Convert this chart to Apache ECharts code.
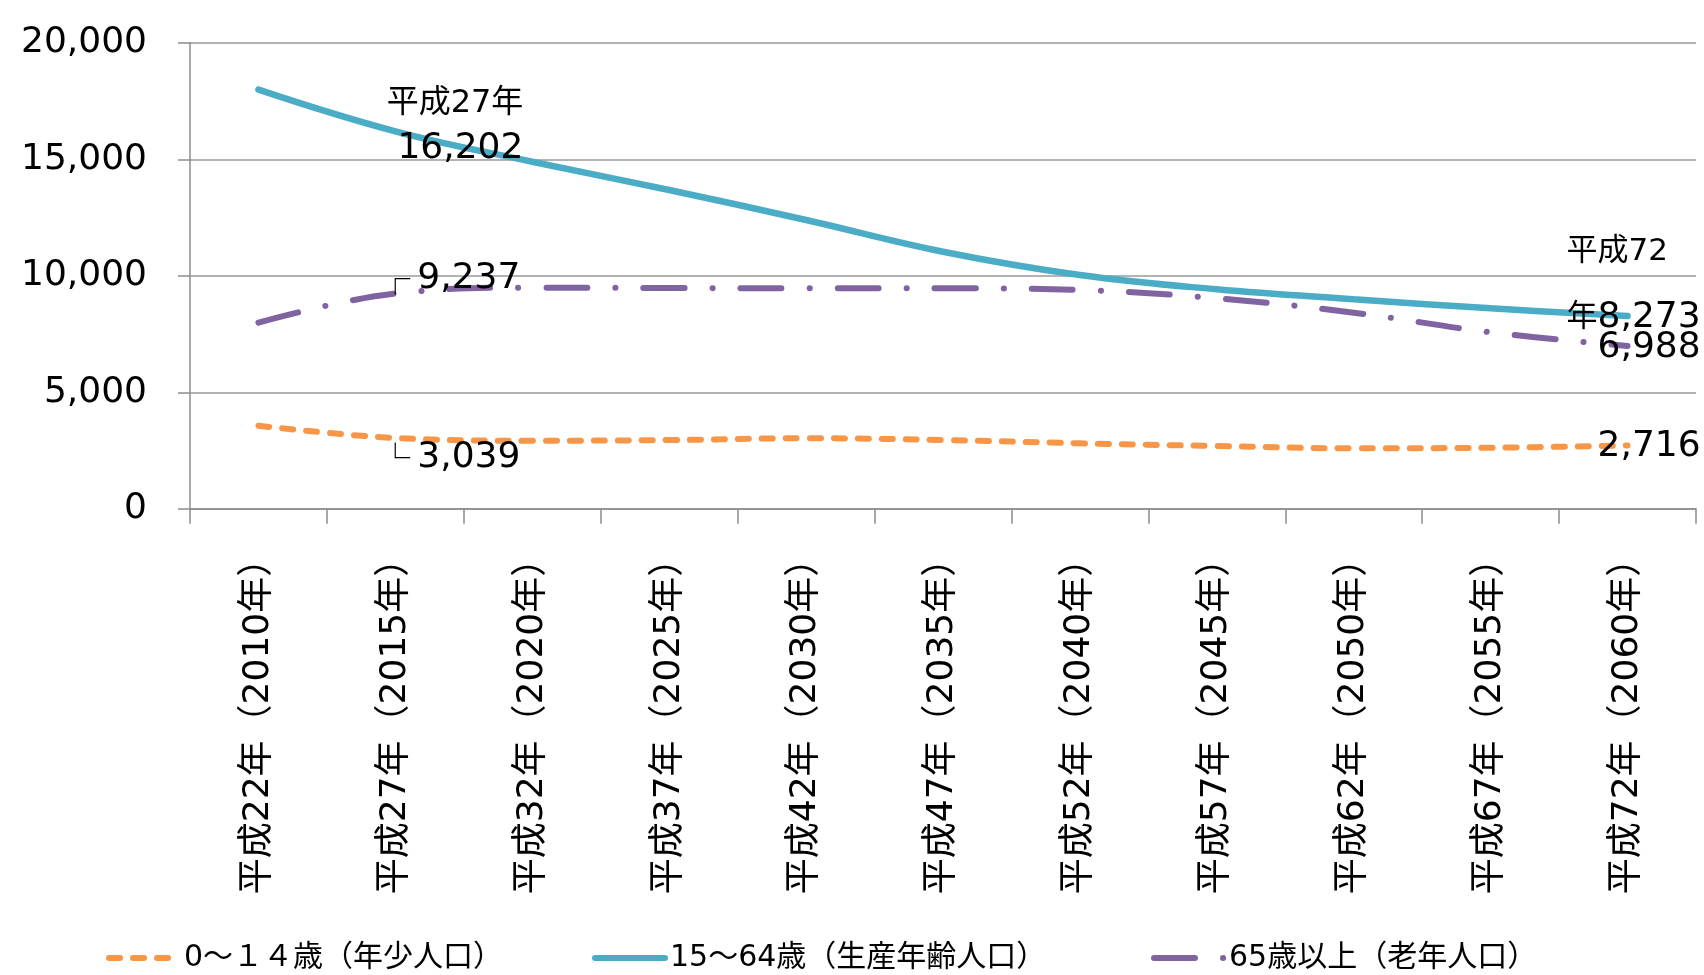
<!DOCTYPE html>
<html>
<head>
<meta charset="utf-8">
<script src="https://cdn.jsdelivr.net/npm/echarts@6/dist/echarts.min.js"></script>
<style>
  html, body { margin: 0; padding: 0; background: #fff; }
  #chart { width: 1704px; height: 975px; }
</style>
</head>
<body>
<div id="chart"></div>
<script>
// ---- data ----
const categories = ['平成22年（2010年）', '平成27年（2015年）', '平成32年（2020年）', '平成37年（2025年）',
  '平成42年（2030年）', '平成47年（2035年）', '平成52年（2040年）', '平成57年（2045年）',
  '平成62年（2050年）', '平成67年（2055年）', '平成72年（2060年）'];
const seriesNames = ['0～１４歳（年少人口）', '15～64歳（生産年齢人口）', '65歳以上（老年人口）'];
const youngValues   = [3567, 3039, 2923, 2950, 3026, 2953, 2811, 2695, 2597, 2622, 2716];
const workingValues = [17990, 16202, 14897, 13682, 12395, 11034, 10034, 9420, 8991, 8605, 8273];
const elderlyValues = [7987, 9237, 9489, 9476, 9463, 9463, 9391, 9034, 8417, 7575, 6988];
const yTicks = [0, 5000, 10000, 15000, 20000];
const labelEraStart = '平成27年';
const labelEraEndA = '平成72';
const labelEraEndB = '年';

// ---- styling ----
const FONT = "'DejaVu Sans', 'Noto Sans CJK JP', sans-serif";
const CJK = "'Noto Sans CJK JP', sans-serif";
const colors = ['#F79646', '#4BACC6', '#8064A2'];
const fmt = v => v.toLocaleString('en-US');
const numRich = { fontSize: 36, fontFamily: FONT, color: '#000' };

function labeled(value, label) {
  return { value: value, symbol: 'circle', symbolSize: 1, label: Object.assign({ show: true, position: 'inside', color: '#000', fontFamily: FONT }, label) };
}

const last = categories.length - 1;

const youngData = youngValues.map((v, i) => {
  if (i === 1) return labeled(v, {
    formatter: '{c|└}{b|' + fmt(v) + '}', align: 'left', verticalAlign: 'middle', offset: [-15, 20],
    rich: { c: { fontSize: 30, fontFamily: CJK, color: '#000', padding: [0, 7, 0, 0] }, b: numRich }
  });
  if (i === last) return labeled(v, {
    formatter: '{b|' + fmt(v) + '}', align: 'left', verticalAlign: 'middle', offset: [-30, 1], rich: { b: numRich }
  });
  return v;
});
const workingData = workingValues.map((v, i) => {
  if (i === 1) return labeled(v, {
    formatter: '{a|' + labelEraStart + '}\n{b|' + fmt(v) + '}', align: 'right', verticalAlign: 'middle', offset: [128, -5],
    rich: { a: { fontSize: 32, fontFamily: FONT, color: '#000', lineHeight: 45, align: 'right' },
            b: Object.assign({ lineHeight: 45, align: 'right' }, numRich) }
  });
  if (i === last) return labeled(v, {
    formatter: '{a|' + labelEraEndA + '}\n{a|' + labelEraEndB + '}{b|' + fmt(v) + '}', align: 'left', verticalAlign: 'middle', offset: [-61, -31],
    rich: { a: { fontSize: 31, fontFamily: FONT, color: '#000', lineHeight: 66 },
            b: Object.assign({ lineHeight: 66 }, numRich) }
  });
  return v;
});
const elderlyData = elderlyValues.map((v, i) => {
  if (i === 1) return labeled(v, {
    formatter: '{c|┌}{b|' + fmt(v) + '}', align: 'left', verticalAlign: 'middle', offset: [-15, -15],
    rich: { c: { fontSize: 30, fontFamily: CJK, color: '#000', padding: [0, 7, 0, 0] }, b: numRich }
  });
  if (i === last) return labeled(v, {
    formatter: '{b|' + fmt(v) + '}', align: 'left', verticalAlign: 'middle', offset: [-30, 2], rich: { b: numRich }
  });
  return v;
});

const chart = echarts.init(document.getElementById('chart'), null, { renderer: 'canvas' });

function legendFor(name, left) {
  return {
    data: [name], left: left, top: 938, orient: 'horizontal',
    itemWidth: 70, itemHeight: 14, itemGap: 0,
    itemStyle: { opacity: 0 },
    lineStyle: { width: 6, cap: 'round' },
    textStyle: { fontSize: 30, fontFamily: FONT, color: '#000' },
    selectedMode: false
  };
}

const option = {
  animation: false,
  backgroundColor: '#fff',
  textStyle: { fontFamily: FONT },
  grid: { left: 190, right: 8, top: 42.8, bottom: 466.2, containLabel: false },
  legend: [
    legendFor(seriesNames[0], 101),
    legendFor(seriesNames[1], 587),
    legendFor(seriesNames[2], 1146)
  ],
  xAxis: {
    type: 'category', data: categories, boundaryGap: true,
    axisLine: { show: true, lineStyle: { color: '#8c8c8c', width: 1.5 } },
    axisTick: { show: true, length: 15, inside: false, lineStyle: { color: '#8c8c8c', width: 1.5 } },
    axisLabel: { rotate: 90, margin: 32, fontSize: 36, color: '#000', fontFamily: FONT, interval: 0 },
    splitLine: { show: false }
  },
  yAxis: {
    type: 'value', min: yTicks[0], max: yTicks[yTicks.length - 1], interval: yTicks[1] - yTicks[0],
    axisLine: { show: true, lineStyle: { color: '#8c8c8c', width: 1.5 } },
    axisTick: { show: true, length: 12, inside: false, lineStyle: { color: '#8c8c8c', width: 1.5 } },
    axisLabel: { margin: 43, fontSize: 36, color: '#000', fontFamily: FONT, formatter: v => fmt(v) },
    splitLine: { show: true, lineStyle: { color: '#9a9a9a', width: 1.5 } }
  },
  series: [
    {
      name: seriesNames[0], type: 'line', data: youngData, smooth: 0.4,
      symbol: 'none', showSymbol: true, itemStyle: { color: colors[0] },
      lineStyle: { color: colors[0], width: 6, type: [11, 13], cap: 'round' },
      emphasis: { disabled: true }, z: 2
    },
    {
      name: seriesNames[1], type: 'line', data: workingData, smooth: 0.4,
      symbol: 'none', showSymbol: true, itemStyle: { color: colors[1] },
      lineStyle: { color: colors[1], width: 6.5, type: 'solid', cap: 'round' },
      emphasis: { disabled: true }, z: 3
    },
    {
      name: seriesNames[2], type: 'line', data: elderlyData, smooth: 0.4,
      symbol: 'none', showSymbol: true, itemStyle: { color: colors[2] },
      lineStyle: { color: colors[2], width: 6, type: [41, 28, 0.1, 28], cap: 'round' },
      emphasis: { disabled: true }, z: 2
    }
  ]
};
chart.setOption(option);
</script>
</body>
</html>
